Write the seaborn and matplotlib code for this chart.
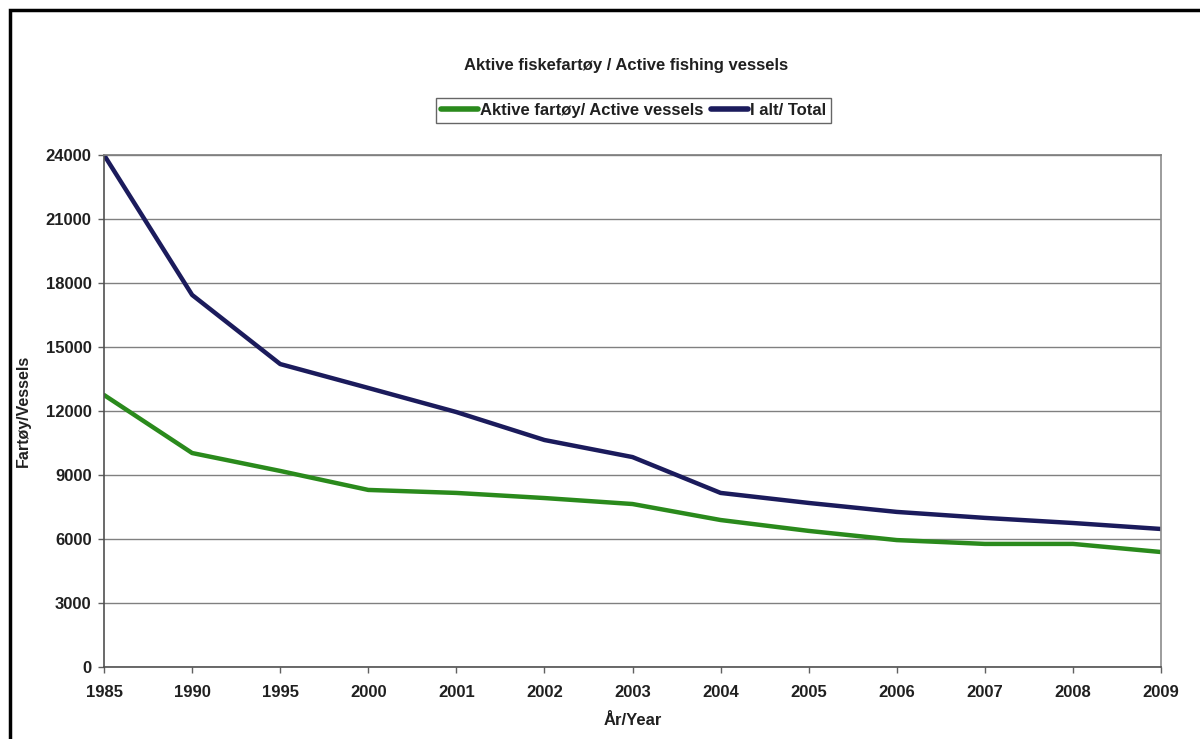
import numpy as np
import pandas as pd
import matplotlib.pyplot as plt
import seaborn as sns
from matplotlib.patches import Rectangle

# data
years = ["1985", "1990", "1995", "2000", "2001", "2002", "2003",
         "2004", "2005", "2006", "2007", "2008", "2009"]
active = [12750, 10030, 9190, 8300, 8160, 7920, 7640,
          6890, 6380, 5950, 5770, 5770, 5390]
total = [24000, 17440, 14200, 13080, 11950, 10640, 9840,
         8160, 7690, 7270, 6990, 6750, 6470]
series_names = ["Aktive fartøy/ Active vessels", "I alt/ Total"]
colors = ["#2a8a1c", "#1b1b5c"]

pos = np.arange(len(years))
df = pd.concat([
    pd.DataFrame({"pos": pos, "value": active, "series": series_names[0]}),
    pd.DataFrame({"pos": pos, "value": total, "series": series_names[1]}),
], ignore_index=True)

sns.set_theme(style="white")
plt.rcParams["font.family"] = ["Liberation Sans", "DejaVu Sans"]

fig = plt.figure(figsize=(12, 7.39), dpi=100)
ax = fig.add_axes([0.0867, 0.0974, 0.8808, 0.6929])

sns.lineplot(data=df, x="pos", y="value", hue="series",
             palette=dict(zip(series_names, colors)),
             linewidth=3.2, ax=ax, legend=False)

ax.set_xlim(0, len(years) - 1)
ax.set_ylim(0, 24000)
ax.set_yticks(np.arange(0, 24001, 3000))
ax.set_xticks(pos)
ax.set_xticklabels(years)
ax.yaxis.grid(True, color="#808080", linewidth=1)
ax.xaxis.grid(False)
ax.set_axisbelow(True)

for lbl in ax.get_xticklabels() + ax.get_yticklabels():
    lbl.set_fontweight("bold")
    lbl.set_fontsize(12)
    lbl.set_color("#202020")
ax.tick_params(axis="both", direction="out", length=4, width=1,
               color="#606060", bottom=True, left=True)
ax.tick_params(axis="x", pad=9)
ax.tick_params(axis="y", pad=5)

for side in ["left", "bottom"]:
    ax.spines[side].set_color("#505050")
    ax.spines[side].set_linewidth(1.2)
ax.spines["right"].set_color("#909090")
ax.spines["top"].set_color("#808080")

ax.set_xlabel("År/Year", fontsize=12, fontweight="bold", labelpad=9,
              color="#202020")
ax.set_ylabel("Fartøy/Vessels", fontsize=11.5, fontweight="bold", labelpad=11,
              color="#202020")

fig.text(0.522, 0.912, "Aktive fiskefartøy / Active fishing vessels",
         ha="center", va="center", fontsize=12, fontweight="bold",
         color="#202020")

handles = [plt.Line2D([], [], color=c, linewidth=4) for c in colors]
leg = fig.legend(handles, series_names, loc="center",
                 bbox_to_anchor=(0.528, 0.851), ncol=2, frameon=True,
                 fancybox=False, edgecolor="#404040", handlelength=2.2,
                 handletextpad=0.1, columnspacing=0.5, borderpad=0.3,
                 borderaxespad=0, prop={"weight": "bold", "size": 12})
leg.get_frame().set_linewidth(1)
for t in leg.get_texts():
    t.set_color("#202020")

# outer chart border
fig.patches.append(Rectangle((0.008, -0.02), 1.1, 1.006, transform=fig.transFigure,
                             fill=False, edgecolor="black", linewidth=2.5))

fig.savefig("out.png", dpi=100, facecolor="white")
